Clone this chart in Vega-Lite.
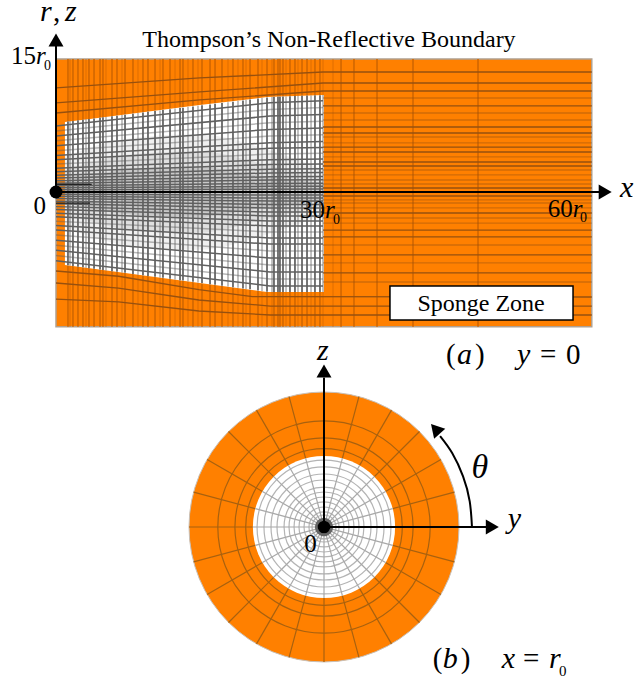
{"$schema":"https://vega.github.io/schema/vega-lite/v6.json","padding":{"left":0,"right":0,"top":-4,"bottom":0},"spacing":0,"bounds":"flush","background":"white","config":{"view":{"stroke":null},"text":{"font":"Liberation Serif"},"concat":{"spacing":0}},
"datasets":{
"vgrid":[
{"x":1.34,"top":7.94,"bot":-8.27,"a":15,"b":-15.2,"t":"s"},{"x":1.9,"top":8.01,"bot":-8.35,"a":15,"b":-15.2,"t":"s"},{"x":2.46,"top":8.08,"bot":-8.42,"a":15,"b":-15.2,"t":"s"},{"x":3.02,"top":8.15,"bot":-8.5,"a":15,"b":-15.2,"t":"s"},{"x":3.69,"top":8.23,"bot":-8.59,"a":15,"b":-15.2,"t":"s"},{"x":4.26,"top":8.3,"bot":-8.66,"a":15,"b":-15.2,"t":"s"},{"x":4.93,"top":8.38,"bot":-8.75,"a":15,"b":-15.2,"t":"s"},{"x":5.26,"top":8.42,"bot":-8.8,"a":15,"b":-15.2,"t":"s"},{"x":6.27,"top":8.55,"bot":-8.93,"a":15,"b":-15.2,"t":"s"},{"x":6.83,"top":8.61,"bot":-9.0,"a":15,"b":-15.2,"t":"s"},{"x":7.73,"top":8.72,"bot":-9.12,"a":15,"b":-15.2,"t":"s"},{"x":8.62,"top":8.83,"bot":-9.24,"a":15,"b":-15.2,"t":"s"},{"x":9.74,"top":8.97,"bot":-9.39,"a":15,"b":-15.2,"t":"s"},{"x":10.3,"top":9.04,"bot":-9.46,"a":15,"b":-15.2,"t":"s"},{"x":11.09,"top":9.13,"bot":-9.57,"a":15,"b":-15.2,"t":"s"},{"x":11.98,"top":9.24,"bot":-9.68,"a":15,"b":-15.2,"t":"s"},{"x":12.77,"top":9.34,"bot":-9.79,"a":15,"b":-15.2,"t":"s"},{"x":13.89,"top":9.47,"bot":-9.94,"a":15,"b":-15.2,"t":"s"},{"x":14.22,"top":9.51,"bot":-9.98,"a":15,"b":-15.2,"t":"s"},{"x":15.34,"top":9.65,"bot":-10.13,"a":15,"b":-15.2,"t":"s"},{"x":16.35,"top":9.77,"bot":-10.27,"a":15,"b":-15.2,"t":"s"},{"x":17.25,"top":9.88,"bot":-10.39,"a":15,"b":-15.2,"t":"s"},{"x":17.81,"top":9.95,"bot":-10.46,"a":15,"b":-15.2,"t":"s"},{"x":18.59,"top":10.04,"bot":-10.56,"a":15,"b":-15.2,"t":"s"},{"x":19.82,"top":10.19,"bot":-10.73,"a":15,"b":-15.2,"t":"s"},{"x":20.94,"top":10.33,"bot":-10.88,"a":15,"b":-15.2,"t":"s"},{"x":21.73,"top":10.43,"bot":-10.98,"a":15,"b":-15.2,"t":"s"},{"x":22.62,"top":10.54,"bot":-11.1,"a":15,"b":-15.2,"t":"s"},{"x":23.63,"top":10.66,"bot":-11.24,"a":15,"b":-15.2,"t":"s"},{"x":24.41,"top":10.72,"bot":-11.28,"a":15,"b":-15.2,"t":"s"},{"x":24.86,"top":10.73,"bot":-11.28,"a":15,"b":-15.2,"t":"s"},{"x":25.08,"top":10.74,"bot":-11.28,"a":15,"b":-15.2,"t":"s"},{"x":25.42,"top":10.76,"bot":-11.28,"a":15,"b":-15.2,"t":"s"},{"x":26.2,"top":10.8,"bot":-11.28,"a":15,"b":-15.2,"t":"s"},{"x":26.76,"top":10.82,"bot":-11.28,"a":15,"b":-15.2,"t":"s"},{"x":27.55,"top":10.85,"bot":-11.28,"a":15,"b":-15.2,"t":"s"},{"x":28.11,"top":10.87,"bot":-11.28,"a":15,"b":-15.2,"t":"s"},{"x":29.0,"top":10.9,"bot":-11.28,"a":15,"b":-15.2,"t":"s"},{"x":29.56,"top":10.92,"bot":-11.28,"a":15,"b":-15.2,"t":"s"},{"x":29.9,"top":10.94,"bot":-11.28,"a":15,"b":-15.2,"t":"f"},
{"x":1.57,"top":7.97,"bot":-8.3,"a":15,"b":-15.2,"t":"f"},{"x":3.36,"top":8.19,"bot":-8.54,"a":15,"b":-15.2,"t":"f"},{"x":5.6,"top":8.46,"bot":-8.84,"a":15,"b":-15.2,"t":"f"},{"x":7.39,"top":8.68,"bot":-9.08,"a":15,"b":-15.2,"t":"f"},{"x":9.18,"top":8.9,"bot":-9.32,"a":15,"b":-15.2,"t":"f"},{"x":11.65,"top":9.2,"bot":-9.65,"a":15,"b":-15.2,"t":"f"},{"x":13.33,"top":9.41,"bot":-9.87,"a":15,"b":-15.2,"t":"f"},{"x":14.78,"top":9.58,"bot":-10.06,"a":15,"b":-15.2,"t":"f"},{"x":15.9,"top":9.72,"bot":-10.21,"a":15,"b":-15.2,"t":"f"},{"x":19.26,"top":10.13,"bot":-10.66,"a":15,"b":-15.2,"t":"f"},{"x":20.38,"top":10.26,"bot":-10.81,"a":15,"b":-15.2,"t":"f"},{"x":21.28,"top":10.37,"bot":-10.93,"a":15,"b":-15.2,"t":"f"},{"x":23.07,"top":10.59,"bot":-11.17,"a":15,"b":-15.2,"t":"f"},{"x":24.19,"top":10.7,"bot":-11.28,"a":15,"b":-15.2,"t":"f"},{"x":25.76,"top":10.78,"bot":-11.28,"a":15,"b":-15.2,"t":"f"},{"x":27.1,"top":10.84,"bot":-11.28,"a":15,"b":-15.2,"t":"f"},{"x":28.56,"top":10.89,"bot":-11.28,"a":15,"b":-15.2,"t":"f"},
{"x":31.02,"a":15,"b":-15.2,"t":"f"},{"x":31.92,"a":15,"b":-15.2,"t":"s"},{"x":33.37,"a":15,"b":-15.2,"t":"s"},{"x":35.95,"a":15,"b":-15.2,"t":"s"},{"x":39.98,"a":15,"b":-15.2,"t":"s"},{"x":47.26,"a":15,"b":-15.2,"t":"s"}],
"hgrid":[
{"l":"a1","x":0,"y":7.43,"t":"s"},{"l":"a1","x":23.96,"y":10.06,"t":"s"},{"l":"a1","x":29.9,"y":10.28,"t":"s"},
{"l":"a2","x":0,"y":6.87,"t":"f"},{"l":"a2","x":23.96,"y":9.31,"t":"f"},{"l":"a2","x":29.9,"y":9.52,"t":"f"},
{"l":"a3","x":0,"y":6.32,"t":"s"},{"l":"a3","x":23.96,"y":8.56,"t":"s"},{"l":"a3","x":29.9,"y":8.75,"t":"s"},
{"l":"a4","x":0,"y":5.77,"t":"f"},{"l":"a4","x":23.96,"y":7.81,"t":"f"},{"l":"a4","x":29.9,"y":7.99,"t":"f"},
{"l":"a5","x":0,"y":5.21,"t":"s"},{"l":"a5","x":23.96,"y":7.06,"t":"s"},{"l":"a5","x":29.9,"y":7.22,"t":"s"},
{"l":"a6","x":0,"y":4.66,"t":"f"},{"l":"a6","x":23.96,"y":6.31,"t":"f"},{"l":"a6","x":29.9,"y":6.45,"t":"f"},
{"l":"a7","x":0,"y":4.11,"t":"s"},{"l":"a7","x":23.96,"y":5.56,"t":"s"},{"l":"a7","x":29.9,"y":5.69,"t":"s"},
{"l":"a8","x":0,"y":3.63,"t":"s"},{"l":"a8","x":23.96,"y":4.92,"t":"s"},{"l":"a8","x":29.9,"y":5.03,"t":"s"},
{"l":"a9","x":0,"y":3.16,"t":"f"},{"l":"a9","x":23.96,"y":4.28,"t":"f"},{"l":"a9","x":29.9,"y":4.38,"t":"f"},
{"l":"a10","x":0,"y":2.69,"t":"s"},{"l":"a10","x":23.96,"y":3.64,"t":"s"},{"l":"a10","x":29.9,"y":3.72,"t":"s"},
{"l":"a11","x":0,"y":2.29,"t":"s"},{"l":"a11","x":23.96,"y":3.1,"t":"s"},{"l":"a11","x":29.9,"y":3.17,"t":"s"},
{"l":"a12","x":0,"y":1.9,"t":"s"},{"l":"a12","x":23.96,"y":2.57,"t":"s"},{"l":"a12","x":29.9,"y":2.63,"t":"s"},
{"l":"a13","x":0,"y":1.58,"t":"s"},{"l":"a13","x":23.96,"y":2.14,"t":"s"},{"l":"a13","x":29.9,"y":2.19,"t":"s"},
{"l":"a14","x":0,"y":1.26,"t":"s"},{"l":"a14","x":23.96,"y":1.71,"t":"s"},{"l":"a14","x":29.9,"y":1.75,"t":"s"},
{"l":"a15","x":0,"y":0.99,"t":"s"},{"l":"a15","x":23.96,"y":1.34,"t":"s"},{"l":"a15","x":29.9,"y":1.37,"t":"s"},
{"l":"a16","x":0,"y":0.71,"t":"s"},{"l":"a16","x":23.96,"y":0.96,"t":"s"},{"l":"a16","x":29.9,"y":0.98,"t":"s"},
{"l":"a17","x":0,"y":0.47,"t":"s"},{"l":"a17","x":23.96,"y":0.64,"t":"s"},{"l":"a17","x":29.9,"y":0.66,"t":"s"},
{"l":"a18","x":0,"y":0.24,"t":"s"},{"l":"a18","x":23.96,"y":0.32,"t":"s"},{"l":"a18","x":29.9,"y":0.33,"t":"s"},
{"l":"b1","x":0,"y":-7.74,"t":"s"},{"l":"b1","x":23.96,"y":-10.6,"t":"s"},{"l":"b1","x":29.9,"y":-10.6,"t":"s"},
{"l":"b2","x":0,"y":-7.16,"t":"f"},{"l":"b2","x":23.96,"y":-9.81,"t":"f"},{"l":"b2","x":29.9,"y":-9.81,"t":"f"},
{"l":"b3","x":0,"y":-6.58,"t":"s"},{"l":"b3","x":23.96,"y":-9.02,"t":"s"},{"l":"b3","x":29.9,"y":-9.02,"t":"s"},
{"l":"b4","x":0,"y":-6.01,"t":"f"},{"l":"b4","x":23.96,"y":-8.23,"t":"f"},{"l":"b4","x":29.9,"y":-8.23,"t":"f"},
{"l":"b5","x":0,"y":-5.43,"t":"s"},{"l":"b5","x":23.96,"y":-7.44,"t":"s"},{"l":"b5","x":29.9,"y":-7.44,"t":"s"},
{"l":"b6","x":0,"y":-4.86,"t":"f"},{"l":"b6","x":23.96,"y":-6.66,"t":"f"},{"l":"b6","x":29.9,"y":-6.66,"t":"f"},
{"l":"b7","x":0,"y":-4.28,"t":"s"},{"l":"b7","x":23.96,"y":-5.87,"t":"s"},{"l":"b7","x":29.9,"y":-5.87,"t":"s"},
{"l":"b8","x":0,"y":-3.79,"t":"s"},{"l":"b8","x":23.96,"y":-5.19,"t":"s"},{"l":"b8","x":29.9,"y":-5.19,"t":"s"},
{"l":"b9","x":0,"y":-3.29,"t":"f"},{"l":"b9","x":23.96,"y":-4.51,"t":"f"},{"l":"b9","x":29.9,"y":-4.51,"t":"f"},
{"l":"b10","x":0,"y":-2.8,"t":"s"},{"l":"b10","x":23.96,"y":-3.84,"t":"s"},{"l":"b10","x":29.9,"y":-3.84,"t":"s"},
{"l":"b11","x":0,"y":-2.39,"t":"s"},{"l":"b11","x":23.96,"y":-3.27,"t":"s"},{"l":"b11","x":29.9,"y":-3.27,"t":"s"},
{"l":"b12","x":0,"y":-1.98,"t":"s"},{"l":"b12","x":23.96,"y":-2.71,"t":"s"},{"l":"b12","x":29.9,"y":-2.71,"t":"s"},
{"l":"b13","x":0,"y":-1.65,"t":"s"},{"l":"b13","x":23.96,"y":-2.26,"t":"s"},{"l":"b13","x":29.9,"y":-2.26,"t":"s"},
{"l":"b14","x":0,"y":-1.32,"t":"s"},{"l":"b14","x":23.96,"y":-1.8,"t":"s"},{"l":"b14","x":29.9,"y":-1.8,"t":"s"},
{"l":"b15","x":0,"y":-1.03,"t":"s"},{"l":"b15","x":23.96,"y":-1.41,"t":"s"},{"l":"b15","x":29.9,"y":-1.41,"t":"s"},
{"l":"b16","x":0,"y":-0.74,"t":"s"},{"l":"b16","x":23.96,"y":-1.02,"t":"s"},{"l":"b16","x":29.9,"y":-1.02,"t":"s"},
{"l":"b17","x":0,"y":-0.49,"t":"s"},{"l":"b17","x":23.96,"y":-0.68,"t":"s"},{"l":"b17","x":29.9,"y":-0.68,"t":"s"},
{"l":"b18","x":0,"y":-0.25,"t":"s"},{"l":"b18","x":23.96,"y":-0.34,"t":"s"},{"l":"b18","x":29.9,"y":-0.34,"t":"s"}],
"sponge":[
{"l":"L1","x":0,"y":11.73,"t":"s"},{"l":"L1","x":16.1,"y":12.86,"t":"s"},{"l":"L1","x":29.9,"y":13.53,"t":"s"},{"l":"L1","x":60,"y":13.53,"t":"s"},
{"l":"L2","x":0,"y":10.04,"t":"s"},{"l":"L2","x":16.1,"y":11.28,"t":"s"},{"l":"L2","x":29.9,"y":12.29,"t":"s"},{"l":"L2","x":60,"y":12.29,"t":"s"},
{"l":"L3","x":0,"y":8.91,"t":"s"},{"l":"L3","x":16.1,"y":10.38,"t":"s"},{"l":"L3","x":29.9,"y":11.39,"t":"s"},{"l":"L3","x":60,"y":11.39,"t":"s"},
{"l":"B1","x":0,"y":-8.91,"t":"s"},{"l":"B1","x":7,"y":-9.5,"t":"s"},{"l":"B1","x":16,"y":-11.0,"t":"s"},{"l":"B1","x":22,"y":-11.8,"t":"s"},{"l":"B1","x":60,"y":-11.84,"t":"s"},
{"l":"B2","x":0,"y":-10.26,"t":"s"},{"l":"B2","x":7,"y":-10.83,"t":"s"},{"l":"B2","x":16,"y":-12.18,"t":"s"},{"l":"B2","x":24,"y":-12.86,"t":"s"},{"l":"B2","x":60,"y":-12.86,"t":"s"},
{"l":"B3","x":0,"y":-12.07,"t":"s"},{"l":"B3","x":7,"y":-12.4,"t":"s"},{"l":"B3","x":16,"y":-13.42,"t":"s"},{"l":"B3","x":24,"y":-13.87,"t":"s"},{"l":"B3","x":60,"y":-13.87,"t":"s"},
{"l":"r1","x":29.9,"y":10.6,"t":"f"},{"l":"r1","x":60,"y":10.6,"t":"f"},{"l":"r2","x":29.9,"y":9.7,"t":"s"},{"l":"r2","x":60,"y":9.7,"t":"s"},{"l":"r3","x":29.9,"y":8.91,"t":"f"},{"l":"r3","x":60,"y":8.91,"t":"f"},{"l":"r4","x":29.9,"y":8.12,"t":"f"},{"l":"r4","x":60,"y":8.12,"t":"f"},{"l":"r5","x":29.9,"y":7.33,"t":"s"},{"l":"r5","x":60,"y":7.33,"t":"s"},{"l":"r6","x":29.9,"y":6.65,"t":"s"},{"l":"r6","x":60,"y":6.65,"t":"s"},{"l":"r7","x":29.9,"y":6.2,"t":"f"},{"l":"r7","x":60,"y":6.2,"t":"f"},{"l":"r8","x":29.9,"y":5.53,"t":"f"},{"l":"r8","x":60,"y":5.53,"t":"f"},{"l":"r9","x":29.9,"y":5.07,"t":"s"},{"l":"r9","x":60,"y":5.07,"t":"s"},{"l":"r10","x":29.9,"y":4.51,"t":"s"},{"l":"r10","x":60,"y":4.51,"t":"s"},{"l":"r11","x":29.9,"y":3.95,"t":"f"},{"l":"r11","x":60,"y":3.95,"t":"f"},{"l":"r12","x":29.9,"y":3.38,"t":"s"},{"l":"r12","x":60,"y":3.38,"t":"s"},{"l":"r13","x":29.9,"y":2.93,"t":"s"},{"l":"r13","x":60,"y":2.93,"t":"s"},{"l":"r14","x":29.9,"y":2.48,"t":"f"},{"l":"r14","x":60,"y":2.48,"t":"f"},{"l":"r15","x":29.9,"y":1.92,"t":"f"},{"l":"r15","x":60,"y":1.92,"t":"f"},{"l":"r16","x":29.9,"y":1.35,"t":"f"},{"l":"r16","x":60,"y":1.35,"t":"f"},{"l":"r17","x":29.9,"y":0.9,"t":"f"},{"l":"r17","x":60,"y":0.9,"t":"f"},{"l":"r18","x":29.9,"y":0.45,"t":"s"},{"l":"r18","x":60,"y":0.45,"t":"s"},{"l":"r19","x":29.9,"y":-0.45,"t":"s"},{"l":"r19","x":60,"y":-0.45,"t":"s"},{"l":"r20","x":29.9,"y":-0.9,"t":"f"},{"l":"r20","x":60,"y":-0.9,"t":"f"},{"l":"r21","x":29.9,"y":-1.24,"t":"f"},{"l":"r21","x":60,"y":-1.24,"t":"f"},{"l":"r22","x":29.9,"y":-1.8,"t":"f"},{"l":"r22","x":60,"y":-1.8,"t":"f"},{"l":"r23","x":29.9,"y":-2.37,"t":"s"},{"l":"r23","x":60,"y":-2.37,"t":"s"},{"l":"r24","x":29.9,"y":-2.93,"t":"f"},{"l":"r24","x":60,"y":-2.93,"t":"f"},{"l":"r25","x":29.9,"y":-3.5,"t":"f"},{"l":"r25","x":60,"y":-3.5,"t":"f"},{"l":"r26","x":29.9,"y":-4.29,"t":"s"},{"l":"r26","x":60,"y":-4.29,"t":"s"},{"l":"r27","x":29.9,"y":-5.07,"t":"s"},{"l":"r27","x":60,"y":-5.07,"t":"s"},{"l":"r28","x":29.9,"y":-5.98,"t":"f"},{"l":"r28","x":60,"y":-5.98,"t":"f"},{"l":"r29","x":29.9,"y":-7.1,"t":"s"},{"l":"r29","x":60,"y":-7.1,"t":"s"},{"l":"r30","x":29.9,"y":-8.0,"t":"f"},{"l":"r30","x":60,"y":-8.0,"t":"f"},{"l":"r31","x":29.9,"y":-9.13,"t":"s"},{"l":"r31","x":60,"y":-9.13,"t":"s"},{"l":"r32","x":29.9,"y":-10.15,"t":"f"},{"l":"r32","x":60,"y":-10.15,"t":"f"}],
"rings":[{"x":0,"y":0,"r":8.7},{"x":0,"y":0,"r":9.9},{"x":0,"y":0,"r":11.8}],
"inner":[{"x":0,"y":0,"r":7.44},{"x":0,"y":0,"r":6.67},{"x":0,"y":0,"r":5.89},{"x":0,"y":0,"r":5.22},{"x":0,"y":0,"r":4.44},{"x":0,"y":0,"r":3.89},{"x":0,"y":0,"r":3.33},{"x":0,"y":0,"r":2.78},{"x":0,"y":0,"r":2.22},{"x":0,"y":0,"r":1.67},{"x":0,"y":0,"r":1.33},{"x":0,"y":0,"r":0.89}],
"spokesOuter":[{"x":15,"y":0,"x2":-15,"y2":0},{"x":14.49,"y":3.88,"x2":-14.49,"y2":-3.88},{"x":12.99,"y":7.5,"x2":-12.99,"y2":-7.5},{"x":10.61,"y":10.61,"x2":-10.61,"y2":-10.61},{"x":7.5,"y":12.99,"x2":-7.5,"y2":-12.99},{"x":3.88,"y":14.49,"x2":-3.88,"y2":-14.49},{"x":0,"y":15,"x2":0,"y2":-15},{"x":-3.88,"y":14.49,"x2":3.88,"y2":-14.49},{"x":-7.5,"y":12.99,"x2":7.5,"y2":-12.99},{"x":-10.61,"y":10.61,"x2":10.61,"y2":-10.61},{"x":-12.99,"y":7.5,"x2":12.99,"y2":-7.5},{"x":-14.49,"y":3.88,"x2":14.49,"y2":-3.88}],
"spokesInner":[{"x":7.9,"y":0,"x2":-7.9,"y2":0},{"x":7.63,"y":2.04,"x2":-7.63,"y2":-2.04},{"x":6.84,"y":3.95,"x2":-6.84,"y2":-3.95},{"x":5.59,"y":5.59,"x2":-5.59,"y2":-5.59},{"x":3.95,"y":6.84,"x2":-3.95,"y2":-6.84},{"x":2.04,"y":7.63,"x2":-2.04,"y2":-7.63},{"x":0,"y":7.9,"x2":0,"y2":-7.9},{"x":-2.04,"y":7.63,"x2":2.04,"y2":-7.63},{"x":-3.95,"y":6.84,"x2":3.95,"y2":-6.84},{"x":-5.59,"y":5.59,"x2":5.59,"y2":-5.59},{"x":-6.84,"y":3.95,"x2":6.84,"y2":-3.95},{"x":-7.63,"y":2.04,"x2":7.63,"y2":-2.04}]
},
"vconcat":[
{"width":640,"height":340,
"encoding":{"x":{"field":"x","type":"quantitative","axis":null,"scale":{"domain":[-6.271,65.4],"nice":false,"zero":false}},"y":{"field":"y","type":"quantitative","axis":null,"scale":{"domain":[-16.69,21.65],"nice":false,"zero":false}}},
"layer":[
{"data":{"values":[{"x":0,"x2":60,"y":-15.2,"y2":15}]},"mark":{"type":"rect","fill":"#ff8000","stroke":"#b0a090","strokeWidth":1.5},"encoding":{"x2":{"field":"x2"},"y2":{"field":"y2"}}},
{"data":{"name":"vgrid"},"mark":{"type":"rule","stroke":"#d46800","strokeWidth":1.7},"encoding":{"y":{"field":"a","type":"quantitative"},"y2":{"field":"b"},"opacity":{"field":"t","type":"nominal","legend":null,"scale":{"domain":["s","f"],"range":[1,0.45]}}}},
{"data":{"values":[{"x":1,"y":7.9,"y2":-8.23},{"x":3.8,"y":8.23,"y2":-8.6},{"x":16.1,"y":9.81,"y2":-10.26},{"x":23.63,"y":10.7,"y2":-11.28},{"x":30,"y":10.94,"y2":-11.28}]},"mark":{"type":"area","fill":"white"},"encoding":{"y2":{"field":"y2"}}},
{"data":{"values":[{"x":1,"y":4,"y2":-4},{"x":8,"y":6,"y2":-6},{"x":16,"y":6.5,"y2":-6.5},{"x":23,"y":5,"y2":-5},{"x":30,"y":2.5,"y2":-2.5}]},"mark":{"type":"area","fill":"#808080","opacity":0.12,"interpolate":"monotone"},"encoding":{"y2":{"field":"y2"}}},
{"data":{"values":[{"x":1,"y":2.4,"y2":-2.4},{"x":8,"y":4.2,"y2":-4.2},{"x":16,"y":4.6,"y2":-4.6},{"x":23,"y":3.2,"y2":-3.2},{"x":30,"y":1.5,"y2":-1.5}]},"mark":{"type":"area","fill":"#808080","opacity":0.15,"interpolate":"monotone"},"encoding":{"y2":{"field":"y2"}}},
{"data":{"values":[{"x":1,"y":1.2,"y2":-1.2},{"x":8,"y":2.5,"y2":-2.5},{"x":16,"y":2.8,"y2":-2.8},{"x":23,"y":1.8,"y2":-1.8},{"x":30,"y":1,"y2":-1}]},"mark":{"type":"area","fill":"#707070","opacity":0.2,"interpolate":"monotone"},"encoding":{"y2":{"field":"y2"}}},
{"data":{"name":"vgrid"},"transform":[{"filter":"isValid(datum.top)"}],"mark":{"type":"rule","stroke":"#666666","strokeWidth":1.8},"encoding":{"y":{"field":"top","type":"quantitative"},"y2":{"field":"bot"},"opacity":{"field":"t","type":"nominal","legend":null,"scale":{"domain":["s","f"],"range":[1,0.45]}}}},
{"data":{"name":"hgrid"},"mark":{"type":"line","stroke":"#606060","strokeWidth":1.5},"encoding":{"detail":{"field":"l"},"opacity":{"field":"t","type":"nominal","legend":null,"scale":{"domain":["s","f"],"range":[1,0.45]}}}},
{"data":{"name":"sponge"},"mark":{"type":"line","stroke":"#96500f","strokeWidth":1.3},"encoding":{"detail":{"field":"l"},"opacity":{"field":"t","type":"nominal","legend":null,"scale":{"domain":["s","f"],"range":[1,0.45]}}}},
{"data":{"values":[{"x":0,"x2":4,"y":0.85,"y2":0.85},{"x":0,"x2":3.8,"y":-1.25,"y2":-1.25}]},"mark":{"type":"rule","stroke":"#222222","strokeWidth":1.2},"encoding":{"x2":{"field":"x2"},"y2":{"field":"y2"}}},
{"data":{"values":[{"x":37.4,"x2":57.9,"y":-10.6,"y2":-14.44}]},"mark":{"type":"rect","fill":"white","stroke":"black","strokeWidth":1.5},"encoding":{"x2":{"field":"x2"},"y2":{"field":"y2"}}},
{"data":{"values":[{"x":0,"x2":61,"y":0,"y2":0},{"x":0,"x2":0,"y":0,"y2":16.5}]},"mark":{"type":"rule","stroke":"black","strokeWidth":2},"encoding":{"x2":{"field":"x2"},"y2":{"field":"y2"}}},
{"data":{"values":[{"x":0,"y":17.14}]},"mark":{"type":"point","shape":"triangle-up","filled":true,"fill":"black","opacity":1,"size":225}},
{"data":{"values":[{"x":61.5,"y":0}]},"mark":{"type":"point","shape":"triangle-right","filled":true,"fill":"black","opacity":1,"size":225}},
{"data":{"values":[{"x":0,"y":0}]},"mark":{"type":"point","shape":"circle","filled":true,"fill":"black","opacity":1,"size":169}},
{"data":{"values":[{"x":30.57,"y":16.35,"s":"Thompson’s Non-Reflective Boundary"},{"x":47.6,"y":-13.39,"s":"Sponge Zone"}]},"mark":{"type":"text","fontSize":24,"align":"center","baseline":"alphabetic","color":"black"},"encoding":{"text":{"field":"s"}}},
{"data":{"values":[{"x":-5.04,"y":14.44,"s":"15"},{"x":-2.52,"y":-2.48,"s":"0"},{"x":27.32,"y":-2.93,"s":"30"},{"x":55.06,"y":-2.79,"s":"60"}]},"mark":{"type":"text","fontSize":25,"align":"left","baseline":"alphabetic","color":"black"},"encoding":{"text":{"field":"s"}}},
{"data":{"values":[{"x":-2.24,"y":14.44,"s":"r"},{"x":30.12,"y":-2.93,"s":"r"},{"x":57.86,"y":-2.79,"s":"r"}]},"mark":{"type":"text","fontSize":25,"fontStyle":"italic","align":"left","baseline":"alphabetic","color":"black"},"encoding":{"text":{"field":"s"}}},
{"data":{"values":[{"x":-1.34,"y":13.76,"s":"0"},{"x":31.02,"y":-3.64,"s":"0"},{"x":58.68,"y":-3.35,"s":"0"}]},"mark":{"type":"text","fontSize":14,"align":"left","baseline":"alphabetic","color":"black"},"encoding":{"text":{"field":"s"}}},
{"data":{"values":[{"x":-1.79,"y":19.3,"s":"r"},{"x":1.0,"y":19.3,"s":"z"},{"x":63.16,"y":-0.56,"s":"x"},{"x":44.9,"y":-19.4,"s":"a"},{"x":51.62,"y":-19.4,"s":"y"}]},"mark":{"type":"text","fontSize":30,"fontStyle":"italic","align":"left","baseline":"alphabetic","color":"black"},"encoding":{"text":{"field":"s"}}},
{"data":{"values":[{"x":-0.34,"y":19.3,"s":","},{"x":43.67,"y":-19.4,"s":"("},{"x":46.92,"y":-19.4,"s":")"},{"x":54.2,"y":-19.4,"s":"="},{"x":57.1,"y":-19.4,"s":"0"}]},"mark":{"type":"text","fontSize":29,"align":"left","baseline":"alphabetic","color":"black"},"encoding":{"text":{"field":"s"}}}
]},
{"width":640,"height":337,
"encoding":{"x":{"field":"x","type":"quantitative","axis":null,"scale":{"domain":[-36,35.11],"nice":false,"zero":false}},"y":{"field":"y","type":"quantitative","axis":null,"scale":{"domain":[-16.67,20.78],"nice":false,"zero":false}}},
"layer":[
{"data":{"values":[{"x":0,"y":0,"r":15}]},"mark":{"type":"point","shape":"circle","filled":true,"fill":"#ff8000","opacity":1,"stroke":"#c8c0b8","strokeWidth":1},"encoding":{"size":{"field":"r","type":"quantitative","legend":null,"scale":{"type":"pow","exponent":2,"domain":[0,15],"range":[0,72900]}}}},
{"data":{"name":"rings"},"mark":{"type":"point","shape":"circle","filled":false,"opacity":1,"stroke":"#a8610f","strokeWidth":1.2},"encoding":{"size":{"field":"r","type":"quantitative","legend":null,"scale":{"type":"pow","exponent":2,"domain":[0,15],"range":[0,72900]}}}},
{"data":{"name":"spokesOuter"},"mark":{"type":"rule","stroke":"#a8610f","strokeWidth":1.2},"encoding":{"x2":{"field":"x2"},"y2":{"field":"y2"}}},
{"data":{"values":[{"x":0,"y":0,"r":7.9}]},"mark":{"type":"point","shape":"circle","filled":true,"fill":"white","opacity":1},"encoding":{"size":{"field":"r","type":"quantitative","legend":null,"scale":{"type":"pow","exponent":2,"domain":[0,15],"range":[0,72900]}}}},
{"data":{"name":"inner"},"mark":{"type":"point","shape":"circle","filled":false,"opacity":1,"stroke":"#b4b4b4","strokeWidth":1.2},"encoding":{"size":{"field":"r","type":"quantitative","legend":null,"scale":{"type":"pow","exponent":2,"domain":[0,15],"range":[0,72900]}}}},
{"data":{"name":"spokesInner"},"mark":{"type":"rule","stroke":"#a8a8a8","strokeWidth":1.2},"encoding":{"x2":{"field":"x2"},"y2":{"field":"y2"}}},
{"data":{"values":[{"x":0,"y":0,"r":0.85}]},"mark":{"type":"point","shape":"circle","filled":false,"opacity":1,"stroke":"#666666","strokeWidth":3},"encoding":{"size":{"field":"r","type":"quantitative","legend":null,"scale":{"type":"pow","exponent":2,"domain":[0,15],"range":[0,72900]}}}},
{"data":{"values":[{"x":0,"y":0,"x2":18,"y2":0},{"x":0,"y":0,"x2":0,"y2":16.6}]},"mark":{"type":"rule","stroke":"black","strokeWidth":2},"encoding":{"x2":{"field":"x2"},"y2":{"field":"y2"}}},
{"data":{"values":[{"x":16.44,"y":0},{"x":16.19,"y":2.85},{"x":15.45,"y":5.62},{"x":14.24,"y":8.22},{"x":12.9,"y":10.1}]},"mark":{"type":"line","stroke":"black","strokeWidth":2,"interpolate":"natural"}},
{"data":{"values":[{"x":0,"y":17.33}]},"mark":{"type":"point","shape":"triangle-up","filled":true,"fill":"black","opacity":1,"size":225}},
{"data":{"values":[{"x":18.7,"y":0}]},"mark":{"type":"point","shape":"triangle-right","filled":true,"fill":"black","opacity":1,"size":225}},
{"data":{"values":[{"x":12.37,"y":10.91}]},"mark":{"type":"point","shape":"triangle-up","filled":true,"fill":"black","opacity":1,"size":225,"angle":318}},
{"data":{"values":[{"x":0,"y":0}]},"mark":{"type":"point","shape":"circle","filled":true,"fill":"black","opacity":1,"size":160}},
{"data":{"values":[{"x":-0.78,"y":18.56,"s":"z"},{"x":20.41,"y":-0.1,"s":"y"},{"x":13.19,"y":-15.67,"s":"b"},{"x":19.74,"y":-15.67,"s":"x"},{"x":25,"y":-15.67,"s":"r"}]},"mark":{"type":"text","fontSize":30,"fontStyle":"italic","align":"left","baseline":"alphabetic","color":"black"},"encoding":{"text":{"field":"s"}}},
{"data":{"values":[{"x":16.4,"y":5.44,"s":"θ"}]},"mark":{"type":"text","fontSize":34,"fontStyle":"italic","align":"left","baseline":"alphabetic","color":"black"},"encoding":{"text":{"field":"s"}}},
{"data":{"values":[{"x":12.08,"y":-15.67,"s":"("},{"x":15.2,"y":-15.67,"s":")"},{"x":22.11,"y":-15.67,"s":"="}]},"mark":{"type":"text","fontSize":29,"align":"left","baseline":"alphabetic","color":"black"},"encoding":{"text":{"field":"s"}}},
{"data":{"values":[{"x":-2.2,"y":-2.74,"s":"0"}]},"mark":{"type":"text","fontSize":25,"align":"left","baseline":"alphabetic","color":"black"},"encoding":{"text":{"field":"s"}}},
{"data":{"values":[{"x":26.11,"y":-16.52,"s":"0"}]},"mark":{"type":"text","fontSize":15,"align":"left","baseline":"alphabetic","color":"black"},"encoding":{"text":{"field":"s"}}}
]}
]}
